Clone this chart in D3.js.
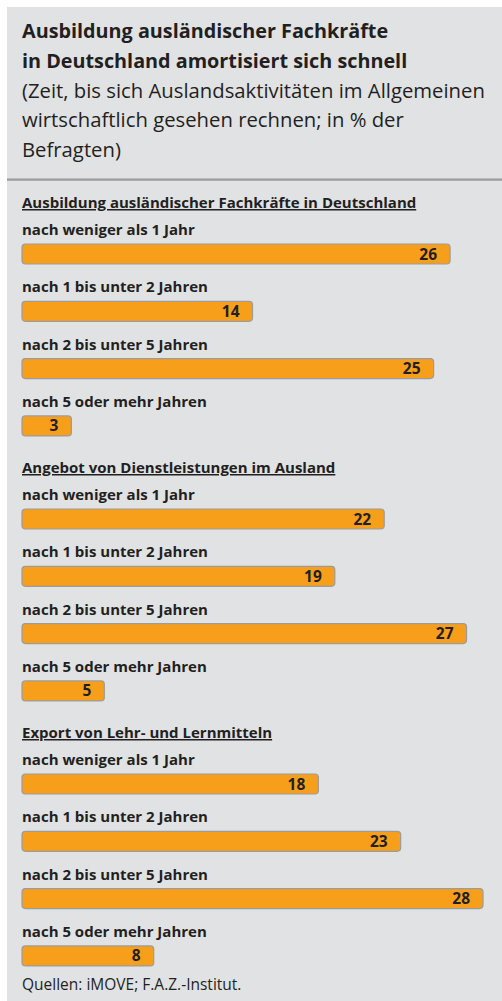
<!DOCTYPE html>
<meta charset="utf-8">
<style>
body{margin:0;background:#fff;}
text{font-family:"Open Sans",sans-serif;fill:#231f20;}
.title{font-weight:bold;font-size:19.8px;}
.sub{font-size:20.3px;}
.head{font-weight:bold;font-size:15px;text-decoration:underline;}
.lab{font-weight:bold;font-size:15px;}
.val{font-weight:bold;font-size:15.5px;text-anchor:end;}
.src{font-size:15.5px;}
.bar{fill:#f79e1b;stroke:#9c9c9c;stroke-width:1.2px;}
</style>
<body>
<script src="https://d3js.org/d3.v7.min.js"></script>
<script>
var titleLines=["Ausbildung ausländischer Fachkräfte","in Deutschland amortisiert sich schnell"];
var subLines=["(Zeit, bis sich Auslandsaktivitäten im Allgemeinen","wirtschaftlich gesehen rechnen; in % der","Befragten)"];
var groups=["Ausbildung ausländischer Fachkräfte in Deutschland","Angebot von Dienstleistungen im Ausland","Export von Lehr- und Lernmitteln"];
var periods=["nach weniger als 1 Jahr","nach 1 bis unter 2 Jahren","nach 2 bis unter 5 Jahren","nach 5 oder mehr Jahren"];
var ausbildung=[26,14,25,3];
var dienstleistung=[22,19,27,5];
var lehrmittel=[18,23,28,8];
var source="Quellen: iMOVE; F.A.Z.-Institut.";

var series=[ausbildung,dienstleistung,lehrmittel];
var rows=[];
groups.forEach(function(g,gi){
	periods.forEach(function(p,pi){
		rows.push({group:gi,row:pi,label:p,value:series[gi][pi]});
	});
});

var W=502,H=1001;
var svg=d3.select("body").append("svg").attr("width",W).attr("height",H);

// panel
svg.append("rect").attr("x",7).attr("y",7).attr("width",W-7).attr("height",H-7).attr("fill","#e1e2e4");
svg.append("rect").attr("x",7).attr("y",178.5).attr("width",W-7).attr("height",2.2).attr("fill","#9a9a9a");

var lines=titleLines.map(function(t){return {t:t,c:"title"}}).concat(subLines.map(function(t){return {t:t,c:"sub"}}));
svg.selectAll(".tl").data(lines).enter().append("text")
	.attr("class",d=>d.c)
	.attr("x",22)
	.attr("y",(d,i)=>38.3+i*29.6)
	.text(d=>d.t);

var x=d3.scaleLinear().domain([0,28]).range([22,483]);
var gy=d3.scaleLinear().domain([0,1]).range([244,509]);
var ry=d3.scaleLinear().domain([0,1]).range([0,57.3]);
var barH=20;

svg.selectAll(".head").data(groups).enter().append("text")
	.attr("class","head")
	.attr("x",22)
	.attr("y",(d,i)=>gy(i)-36)
	.text(d=>d);

var r=svg.selectAll(".row").data(rows).enter().append("g")
	.attr("transform",d=>"translate(0,"+(gy(d.group)+ry(d.row))+")");

r.append("text").attr("class","lab").attr("x",22).attr("y",-9).text(d=>d.label);
r.append("rect").attr("class","bar")
	.attr("x",x(0)).attr("y",0)
	.attr("width",d=>x(d.value)-x(0)).attr("height",barH)
	.attr("rx",3.5);
r.append("text").attr("class","val")
	.attr("x",d=>x(d.value)-13)
	.attr("y",15.5)
	.text(d=>d.value);

svg.append("text").attr("class","src").attr("x",22).attr("y",990).text(source);
</script>
</body>
